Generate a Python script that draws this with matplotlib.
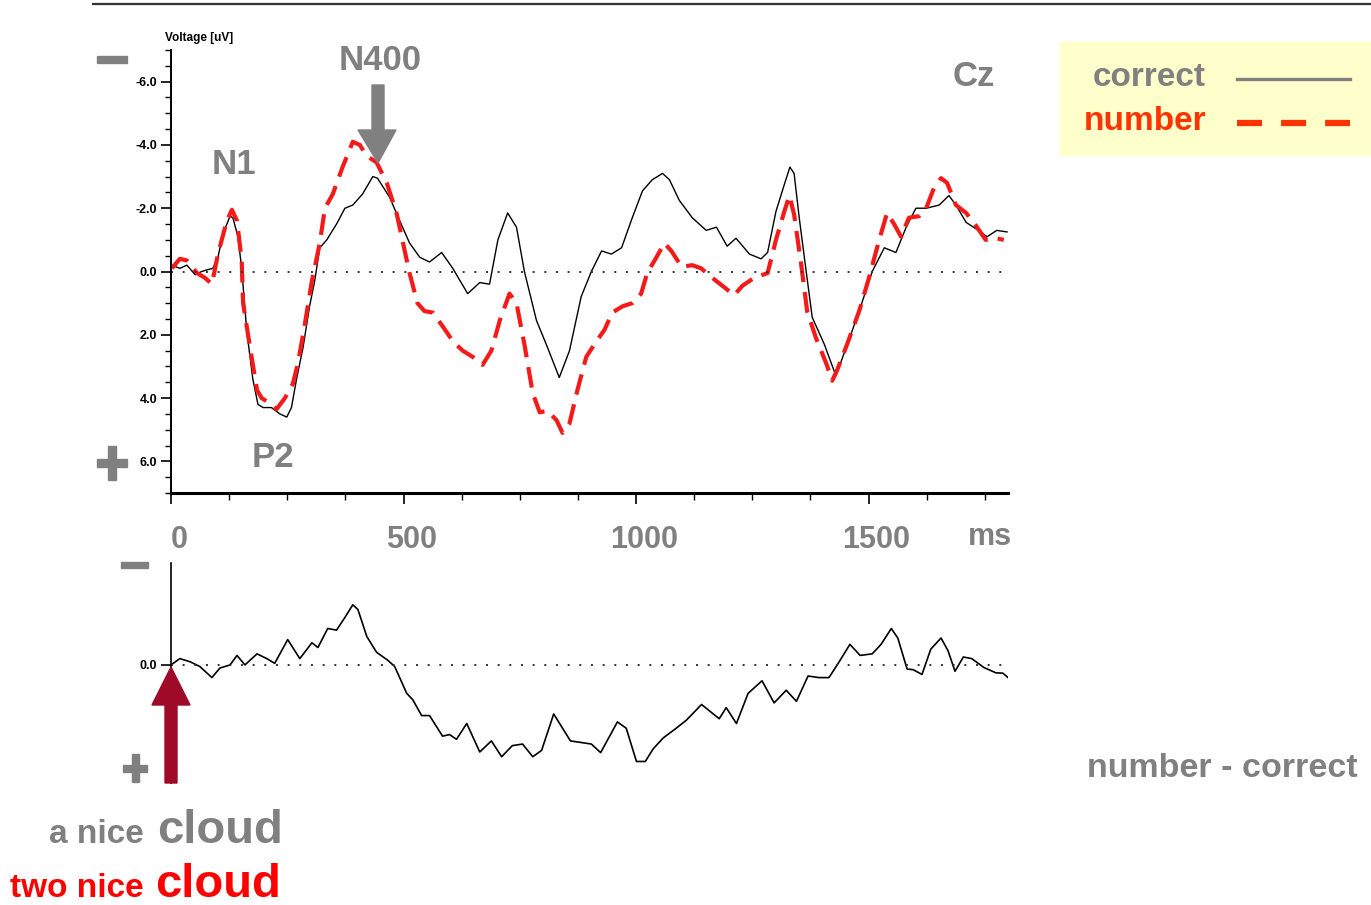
import numpy as np
import matplotlib
matplotlib.use("Agg")
import matplotlib.pyplot as plt
import matplotlib.transforms as mtransforms
from matplotlib.patches import Rectangle, Polygon
from matplotlib.lines import Line2D

# ERP at Cz, values in uV (negative plotted upward)
t_correct = [2, 19, 34, 52, 66, 77, 90, 101, 112, 127, 133, 144, 152, 163, 176, 187, 198, 216,
             234, 249, 259, 270, 284, 298, 309, 320, 335, 356, 374, 391, 412, 434, 444, 470,
             492, 513, 535, 556, 582, 606, 638, 664, 685, 703, 724, 743, 760, 786, 807, 835,
             857, 882, 904, 926, 947, 969, 992, 1014, 1035, 1057, 1072, 1093, 1121, 1151,
             1173, 1196, 1215, 1244, 1269, 1283, 1301, 1319, 1331, 1340, 1351, 1366, 1379,
             1405, 1430, 1452, 1480, 1508, 1534, 1559, 1581, 1602, 1624, 1652, 1673, 1688,
             1710, 1731, 1755, 1776, 1798]
v_correct = [-0.2, -0.1, -0.2, 0.1, 0.0, -0.05, -0.1, -0.45, -1.2, -1.75, -1.7, -1.1, -0.1,
             1.9, 3.4, 4.2, 4.3, 4.3, 4.5, 4.6, 4.3, 3.4, 2.4, 1.1, 0.3, -0.75, -1.0, -1.5,
             -2.0, -2.1, -2.45, -3.0, -2.95, -2.35, -1.6, -0.9, -0.45, -0.3, -0.6, -0.1, 0.7,
             0.35, 0.4, -1.0, -1.85, -1.4, 0.0, 1.55, 2.3, 3.35, 2.5, 0.8, 0.0, -0.65, -0.55,
             -0.75, -1.7, -2.55, -2.9, -3.1, -2.9, -2.25, -1.7, -1.3, -1.4, -0.8, -1.05,
             -0.55, -0.4, -0.6, -1.9, -2.75, -3.3, -3.1, -1.7, 0.0, 1.45, 2.3, 3.3, 2.4, 1.25,
             0.0, -0.75, -0.6, -1.4, -2.0, -2.0, -2.1, -2.4, -2.1, -1.55, -1.35, -1.1, -1.3,
             -1.25]

t_number = [2, 19, 34, 56, 73, 88, 101, 120, 131, 142, 152, 155, 170, 185, 195, 216, 227, 245,
            262, 273, 288, 303, 320, 331, 348, 369, 391, 406, 421, 442, 464, 485, 513, 530,
            545, 563, 585, 606, 627, 649, 670, 689, 707, 728, 743, 760, 778, 793, 810, 829,
            842, 857, 874, 893, 915, 932, 949, 971, 992, 1011, 1024, 1044, 1061, 1076, 1098,
            1121, 1140, 1164, 1190, 1211, 1229, 1254, 1283, 1301, 1319, 1330, 1340, 1355,
            1368, 1387, 1409, 1422, 1433, 1454, 1480, 1501, 1523, 1540, 1555, 1570, 1587,
            1609, 1624, 1641, 1656, 1669, 1688, 1710, 1731, 1752, 1774, 1791]
v_number = [-0.1, -0.4, -0.35, 0.05, 0.2, 0.4, -0.55, -1.6, -1.95, -1.6, -0.35, 1.0, 2.4,
            3.75, 4.0, 4.2, 4.35, 4.0, 3.55, 2.9, 1.65, 0.3, -0.9, -2.0, -2.45, -3.3, -4.1,
            -4.0, -3.65, -3.45, -2.8, -1.85, 0.05, 1.0, 1.25, 1.3, 1.75, 2.2, 2.5, 2.7, 2.95,
            2.5, 1.55, 0.7, 1.0, 2.3, 3.85, 4.45, 4.4, 4.7, 5.1, 4.8, 3.75, 2.7, 2.2, 1.85,
            1.3, 1.1, 1.0, 0.7, 0.05, -0.45, -0.9, -0.65, -0.15, -0.2, -0.1, 0.2, 0.5, 0.75,
            0.45, 0.2, 0.05, -1.0, -1.9, -2.4, -1.8, -0.25, 1.25, 2.1, 2.9, 3.45, 3.1, 2.3,
            1.25, 0.2, -1.0, -1.85, -1.5, -1.1, -1.7, -1.75, -2.0, -2.65, -2.95, -2.8, -2.1,
            -1.85, -1.45, -1.0, -1.05, -1.0]

# difference wave number - correct
t_diff = [0, 19, 41, 62, 88, 105, 127, 142, 159, 185, 206, 223, 251, 277, 303, 316, 337, 356,
          374, 391, 402, 421, 442, 466, 481, 507, 520, 539, 556, 584, 599, 614, 636, 664, 689,
          711, 734, 756, 778, 797, 823, 859, 882, 904, 924, 960, 979, 1001, 1020, 1037, 1059,
          1082, 1108, 1141, 1179, 1194, 1216, 1241, 1271, 1297, 1323, 1345, 1370, 1393, 1415,
          1437, 1460, 1482, 1508, 1527, 1549, 1563, 1583, 1596, 1615, 1634, 1656, 1671, 1686,
          1704, 1722, 1748, 1774, 1789, 1800]
v_diff = [0.0, -0.2, -0.1, 0.05, 0.4, 0.1, 0.0, -0.3, 0.0, -0.35, -0.2, -0.05, -0.8, -0.2,
          -0.7, -0.55, -1.15, -1.1, -1.5, -1.9, -1.75, -0.9, -0.4, -0.15, 0.05, 0.9, 1.1, 1.6,
          1.6, 2.25, 2.2, 2.35, 1.85, 2.75, 2.4, 2.9, 2.55, 2.5, 2.9, 2.7, 1.55, 2.4, 2.45,
          2.5, 2.77, 1.8, 2.0, 3.05, 3.05, 2.65, 2.3, 2.05, 1.75, 1.25, 1.7, 1.35, 1.85, 0.9,
          0.5, 1.2, 0.8, 1.15, 0.35, 0.4, 0.4, -0.1, -0.65, -0.3, -0.35, -0.65, -1.15, -0.85,
          0.13, 0.15, 0.3, -0.5, -0.85, -0.45, 0.2, -0.25, -0.2, 0.08, 0.25, 0.26, 0.4]

x_ticks = [0, 500, 1000, 1500]
y_ticks = [-6.0, -4.0, -2.0, 0.0, 2.0, 4.0, 6.0]

GREY = '#808080'
FONT = ['Liberation Sans', 'DejaVu Sans']

W, H = 1371, 905
fig = plt.figure(figsize=(W / 100, H / 100), dpi=100)
# pixel coordinates of the picture, origin top-left
pix = mtransforms.Affine2D().scale(1, -1).translate(0, H).scale(1 / W, 1 / H) + fig.transFigure

ax = fig.add_axes([171 / W, 1 - 493 / H, 837 / W, 443 / H])
ax.plot(t_correct, v_correct, color='black', lw=1.0)
ax.plot(t_number, v_number, color='#f41a1a', lw=3.0, linestyle=(0, (5, 2.4)))
ax.axhline(0, color='#333333', lw=1.4, linestyle=(0, (1, 5)))
ax.set_xlim(0, 1800)
ax.set_ylim(7, -7)
for s in ['top', 'right']:
    ax.spines[s].set_visible(False)
ax.spines['bottom'].set_linewidth(2.2)
ax.spines['left'].set_linewidth(1.4)
ax.set_yticks(y_ticks)
ax.set_yticklabels(['%.1f' % v for v in y_ticks], fontsize=9, fontweight='bold', family=FONT)
ax.set_yticks(np.arange(-7, 7.01, 0.5), minor=True)
ax.set_xticks(x_ticks)
ax.set_xticklabels([str(v) for v in x_ticks], fontsize=22, fontweight='bold', color=GREY,
                   family=FONT)
ax.set_xticks(np.arange(0, 1801, 125), minor=True)
ax.tick_params(axis='x', which='major', length=8, width=1.2, pad=15)
ax.tick_params(axis='x', which='minor', length=5, width=1.0)
ax.tick_params(axis='y', which='major', length=7, width=1.2, pad=3)
ax.tick_params(axis='y', which='minor', length=4, width=1.0)
shift = mtransforms.ScaledTranslation(8 / 100, 0, fig.dpi_scale_trans)
for lab in ax.get_xticklabels():
    lab.set_transform(lab.get_transform() + shift)

ax2 = fig.add_axes([171 / W, 1 - 783 / H, 837 / W, 220 / H])
ax2.plot(t_diff, v_diff, color='black', lw=1.2)
ax2.axhline(0, color='#333333', lw=1.4, linestyle=(0, (1, 5)))
ax2.set_xlim(0, 1800)
ax2.set_ylim(3.73, -3.22)
for s in ['top', 'right', 'bottom']:
    ax2.spines[s].set_visible(False)
ax2.spines['left'].set_linewidth(1.2)
ax2.set_xticks([])
ax2.set_yticks([0.0])
ax2.set_yticklabels(['0.0'], fontsize=9, fontweight='bold', family=FONT)
ax2.tick_params(axis='y', length=7, width=1.2, pad=3)

def txt(x, y, s, size, color=GREY, ha='center', va='center', weight='bold'):
    fig.text(x, y, s, transform=pix, fontsize=size, color=color, ha=ha, va=va,
             fontweight=weight, family=FONT)

txt(199, 38, 'Voltage [uV]', 8.5, color='black')
txt(380, 60, 'N400', 25)
txt(234, 164, 'N1', 25)
txt(273, 457, 'P2', 25)
txt(974, 76, 'Cz', 25)
txt(990, 537, 'ms', 22)
txt(1087, 768, 'number - correct', 24.5, ha='left')

# minus / plus signs
for x0, x1, y0, y1 in [(97, 127, 56, 63), (121, 148, 562, 568)]:
    fig.patches.append(Rectangle((x0, y0), x1 - x0, y1 - y0, transform=pix, color=GREY))
for cx, cy, hw, st in [(112, 463, 15, 4), (135, 768, 12, 3.5)]:
    fig.patches.append(Rectangle((cx - hw, cy - st), 2 * hw, 2 * st, transform=pix, color=GREY))
    fig.patches.append(Rectangle((cx - st, cy - hw - 2), 2 * st, 2 * hw + 4, transform=pix, color=GREY))

# arrows
fig.patches.append(Polygon([(372, 85), (384, 85), (384, 130), (396, 130), (378, 163),
                            (358, 130), (372, 130)], closed=True, transform=pix, color=GREY))
fig.patches.append(Polygon([(165, 783), (177, 783), (177, 705), (190, 705), (171, 667),
                            (152, 705), (165, 705)], closed=True, transform=pix,
                           color='#9e0a28'))

# legend box
fig.patches.append(Rectangle((1060, 42), 311, 113, transform=pix, color='#ffffcc', zorder=0))
txt(1093, 77, 'correct', 24, ha='left')
txt(1084, 122, 'number', 24, color='#ff3300', ha='left')
fig.lines.append(Line2D([1237, 1350], [79, 79], transform=pix, color=GREY, lw=2.4))
fig.lines.append(Line2D([1237, 1350], [123, 123], transform=pix, color='#ff3300', lw=4.5,
                        linestyle=(0, (4, 3.05))))

# top rule
fig.lines.append(Line2D([93, 1371], [4, 4], transform=pix, color='#333333', lw=1.6))

# sentences
txt(49, 843, 'a nice', 24, ha='left', va='baseline')
txt(157, 843, 'cloud', 34, ha='left', va='baseline')
txt(10, 897, 'two nice', 24, color='#ff0000', ha='left', va='baseline')
txt(155, 897, 'cloud', 34, color='#ff0000', ha='left', va='baseline')

fig.savefig('out.png', dpi=100)
